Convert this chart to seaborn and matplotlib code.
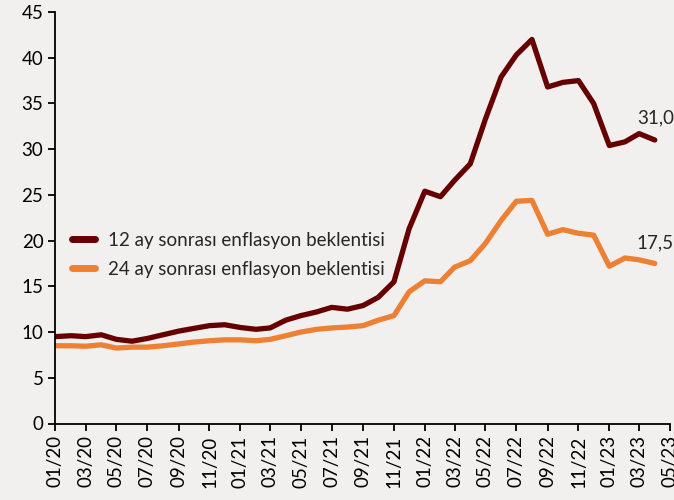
import numpy as np
import pandas as pd
import seaborn as sns
import matplotlib.pyplot as plt
import matplotlib.dates as mdates

months = pd.date_range("2020-01-01", "2023-04-01", freq="MS")

exp_12m = [9.5, 9.6, 9.5, 9.7, 9.2, 9.0, 9.3, 9.7, 10.1, 10.4,
           10.7, 10.8, 10.5, 10.3, 10.45, 11.3, 11.8, 12.2, 12.7, 12.5,
           12.9, 13.8, 15.5, 21.3, 25.4, 24.8, 26.6, 28.4, 33.3, 37.9,
           40.3, 42.0, 36.8, 37.3, 37.5, 35.0, 30.4, 30.8, 31.7, 31.0]
exp_24m = [8.5, 8.5, 8.45, 8.6, 8.25, 8.35, 8.35, 8.5, 8.7, 8.9,
           9.05, 9.15, 9.15, 9.05, 9.2, 9.6, 10.0, 10.3, 10.45, 10.55,
           10.7, 11.3, 11.8, 14.4, 15.6, 15.5, 17.1, 17.8, 19.7, 22.2,
           24.3, 24.4, 20.7, 21.2, 20.8, 20.6, 17.2, 18.1, 17.9, 17.5]
labels = ["12 ay sonrası enflasyon beklentisi", "24 ay sonrası enflasyon beklentisi"]
colors = ["#660000", "#EE8034"]

df = pd.DataFrame({"tarih": months, labels[0]: exp_12m, labels[1]: exp_24m})
long = df.melt(id_vars="tarih", var_name="seri", value_name="deger")

sns.set_style("ticks")
plt.rcParams["font.family"] = ["Lato", "DejaVu Sans"]
bg = "#F2F0EF"

fig, ax = plt.subplots(figsize=(6.74, 5), dpi=100)
fig.patch.set_facecolor(bg)
ax.set_facecolor(bg)

sns.lineplot(data=long, x="tarih", y="deger", hue="seri", palette=colors,
             linewidth=3.8, ax=ax, solid_capstyle="round")

ax.set_ylim(0, 45)
ax.set_yticks(range(0, 46, 5))
ax.set_xlim(pd.Timestamp("2020-01-01"), pd.Timestamp("2023-05-01"))
ax.xaxis.set_major_locator(mdates.MonthLocator(bymonth=[1, 3, 5, 7, 9, 11]))
ax.xaxis.set_major_formatter(mdates.DateFormatter("%m/%y"))
ax.tick_params(axis="x", rotation=90, labelsize=13.5, length=5, width=1.3, colors="black")
ax.tick_params(axis="y", labelsize=13.5, length=5, width=1.3, colors="black")
ax.set_xlabel("")
ax.set_ylabel("")
sns.despine(ax=ax)
for s in ["left", "bottom"]:
    ax.spines[s].set_linewidth(1.3)
    ax.spines[s].set_color("black")

leg = ax.legend(loc="center left", bbox_to_anchor=(0.0, 0.41), frameon=False,
                fontsize=13.5, handlelength=1.2, handletextpad=0.7, labelspacing=0.65)
for h in leg.get_lines():
    h.set_linewidth(5)
    h.set_solid_capstyle("round")

ax.annotate(f"{exp_12m[-1]:.1f}".replace(".", ","), (months[-1], exp_12m[-1]),
            xytext=(-13, 12), textcoords="offset points", fontsize=13.5)
ax.annotate(f"{exp_24m[-1]:.1f}".replace(".", ","), (months[-1], exp_24m[-1]),
            xytext=(-13, 11), textcoords="offset points", fontsize=13.5)

fig.subplots_adjust(left=0.082, right=0.994, top=0.976, bottom=0.153)
fig.savefig("out.png", dpi=100, facecolor=bg)
